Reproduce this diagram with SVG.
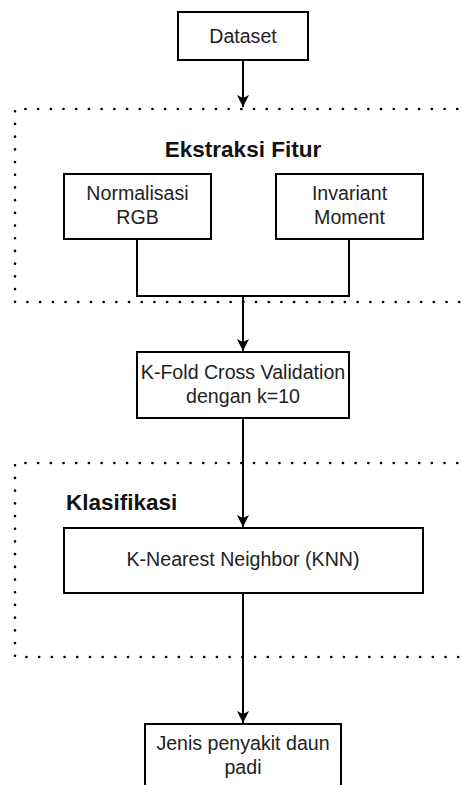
<svg xmlns="http://www.w3.org/2000/svg" width="462" height="785" viewBox="0 0 462 785">
<style>
.box{fill:#fff;stroke:#000;stroke-width:2}
.t{font-family:"Liberation Sans",Arial,sans-serif;font-size:19.6px;fill:#222;text-anchor:middle}
.b{font-family:"Liberation Sans",Arial,sans-serif;font-size:22.5px;font-weight:bold;fill:#111}
.dot{fill:none;stroke:#000;stroke-width:2.6;stroke-dasharray:0.1 12.6;stroke-linecap:round}
.c{fill:none;stroke:#000;stroke-width:2}
</style>
<defs>
<marker id="ah" markerUnits="userSpaceOnUse" markerWidth="14" markerHeight="12" refX="12" refY="6" orient="auto">
<path d="M0,0 L12,6 L0,12 L3,6 Z" fill="#000"/>
</marker>
</defs>
<g id="group-ekstraksi">
<path class="dot" d="M470,109 H15 V302 H470"/>
<text class="b" x="243" y="157" text-anchor="middle">Ekstraksi Fitur</text>
</g>
<g id="group-klasifikasi">
<path class="dot" d="M470,463 H15 V657 H470"/>
<text class="b" x="66" y="510">Klasifikasi</text>
</g>
<g id="connectors">
<path class="c" d="M243,60 V107" marker-end="url(#ah)"/>
<path class="c" d="M137,239 V296 H349 V239"/>
<path class="c" d="M243,296 V351" marker-end="url(#ah)"/>
<path class="c" d="M243,418 V527" marker-end="url(#ah)"/>
<path class="c" d="M243,593 V723" marker-end="url(#ah)"/>
</g>
<g id="node-dataset">
<rect class="box" x="178" y="12" width="130" height="48"/>
<text class="t" x="243" y="43">Dataset</text>
</g>
<g id="node-normalisasi">
<rect class="box" x="64" y="174" width="147" height="65"/>
<text class="t" x="137.5" y="200">Normalisasi</text>
<text class="t" x="137.5" y="224">RGB</text>
</g>
<g id="node-invariant">
<rect class="box" x="276" y="174" width="147" height="65"/>
<text class="t" x="349.5" y="200">Invariant</text>
<text class="t" x="349.5" y="224">Moment</text>
</g>
<g id="node-kfold">
<rect class="box" x="137" y="352" width="212" height="66"/>
<text class="t" x="243" y="379">K-Fold Cross Validation</text>
<text class="t" x="243" y="403">dengan k=10</text>
</g>
<g id="node-knn">
<rect class="box" x="64" y="528" width="359" height="65"/>
<text class="t" x="243" y="566">K-Nearest Neighbor (KNN)</text>
</g>
<g id="node-jenis">
<rect class="box" x="145" y="724" width="196" height="70"/>
<text class="t" x="243" y="750">Jenis penyakit daun</text>
<text class="t" x="243" y="774">padi</text>
</g>
</svg>
